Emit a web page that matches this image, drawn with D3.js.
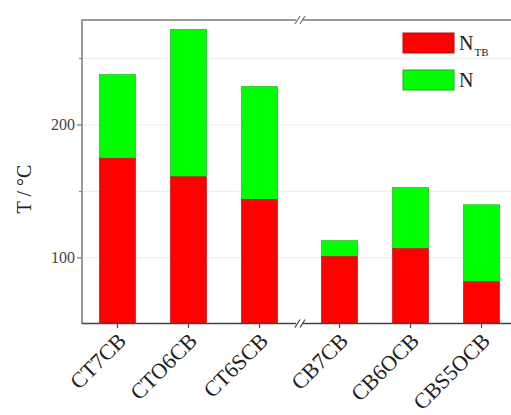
<!DOCTYPE html>
<html><head><meta charset="utf-8">
<script src="https://cdn.jsdelivr.net/npm/d3@7/dist/d3.min.js"></script>
<style>body{margin:0;background:#fff;}svg{display:block;}</style>
</head><body>
<script>
const categories = ["CT7CB","CTO6CB","CT6SCB","CB7CB","CB6OCB","CBS5OCB"];
const ntbValues = [175, 161, 144, 101, 107, 82];
const nValues   = [238, 272, 229, 113, 153, 140];
const yTicksMajor = [100, 200];
const yTicksMinor = [150, 250];
const legendLabels = [["N","TB"],["N",""]];
const colors = {ntb:"#ff0000", n:"#00ff00"};

(function(){
const W = 511, H = 415;
const svg = d3.select("body").append("svg").attr("width", W).attr("height", H);
const pLeft = 82, pTop = 20, pBottom = 323, brk = 300;
const y = d3.scaleLinear().domain([51, 279]).range([pBottom, pTop]);
const xL = d3.scaleBand().domain(categories.slice(0,3)).range([82, 295]).paddingInner(0.49).paddingOuter(0.245);
const xR = d3.scaleBand().domain(categories.slice(3)).range([304, 517]).paddingInner(0.49).paddingOuter(0.245);
const xPos = c => (xL.domain().includes(c) ? xL(c) : xR(c));
const bw = xL.bandwidth();

// gridlines
svg.append("g").selectAll("line").data(yTicksMajor.concat(yTicksMinor)).join("line")
  .attr("x1", pLeft).attr("x2", W).attr("y1", d=>y(d)).attr("y2", d=>y(d))
  .attr("stroke", "#ececec").attr("stroke-width", 1);

// bars
const data = categories.map((c,i)=>({c, ntb: ntbValues[i], n: nValues[i]}));
const g = svg.append("g");
g.selectAll("rect.n").data(data).join("rect").attr("class","n")
  .attr("x", d=>xPos(d.c)).attr("width", bw)
  .attr("y", d=>y(d.n)).attr("height", d=>y(d.ntb)-y(d.n))
  .attr("fill", colors.n).attr("stroke", "#22aa22").attr("stroke-width", 0.6);
g.selectAll("rect.t").data(data).join("rect").attr("class","t")
  .attr("x", d=>xPos(d.c)).attr("width", bw)
  .attr("y", d=>y(d.ntb)).attr("height", d=>pBottom - y(d.ntb))
  .attr("fill", colors.ntb).attr("stroke", "#bb1111").attr("stroke-width", 0.6);

// frame
svg.append("line").attr("x1", pLeft).attr("x2", pLeft).attr("y1", pTop-1).attr("y2", pBottom+1)
  .attr("stroke", "#9a9a9a").attr("stroke-width", 2);
svg.append("line").attr("x1", pLeft-1).attr("x2", W).attr("y1", pTop).attr("y2", pTop)
  .attr("stroke", "#9a9a9a").attr("stroke-width", 2);
svg.append("line").attr("x1", pLeft).attr("x2", W).attr("y1", pBottom+0.5).attr("y2", pBottom+0.5)
  .attr("stroke", "#444").attr("stroke-width", 1.5);

// breaks
[pTop, pBottom+0.5].forEach(yy=>{
  svg.append("rect").attr("x", brk-4).attr("y", yy-2).attr("width", 7).attr("height", 4).attr("fill","#fff");
  [-3, 2].forEach(o=>{
    svg.append("line").attr("x1", brk+o-2).attr("x2", brk+o+3).attr("y1", yy+4).attr("y2", yy-4)
      .attr("stroke", yy===pTop?"#777":"#444").attr("stroke-width", 1.2);
  });
});

// y ticks
svg.append("g").selectAll("line").data(yTicksMajor).join("line")
  .attr("x1", pLeft-5).attr("x2", pLeft).attr("y1", d=>y(d)).attr("y2", d=>y(d)).attr("stroke","#777").attr("stroke-width",1.2);
svg.append("g").selectAll("line").data(yTicksMinor).join("line")
  .attr("x1", pLeft-3).attr("x2", pLeft).attr("y1", d=>y(d)).attr("y2", d=>y(d)).attr("stroke","#888").attr("stroke-width",1);
svg.append("g").selectAll("text").data(yTicksMajor).join("text")
  .attr("x", pLeft-7).attr("y", d=>y(d)+5.5).attr("text-anchor","end")
  .attr("font-family","Liberation Serif").attr("font-size",16).attr("fill","#444").text(d=>d);

// x ticks & labels
svg.append("g").selectAll("line").data(categories).join("line")
  .attr("x1", c=>xPos(c)+bw/2).attr("x2", c=>xPos(c)+bw/2).attr("y1", pBottom+1).attr("y2", pBottom+5)
  .attr("stroke","#444").attr("stroke-width",1.2);
svg.append("g").selectAll("text").data(categories).join("text")
  .attr("transform", c=>`translate(${xPos(c)+bw/2+10},${pBottom+19}) rotate(-45)`)
  .attr("text-anchor","end")
  .attr("font-family","Liberation Serif").attr("font-size",22).attr("fill","#222").text(c=>c);

// y title
svg.append("text").attr("transform", `translate(31,189) rotate(-90)`)
  .attr("text-anchor","middle").attr("font-family","Liberation Serif").attr("font-size",20).attr("fill","#222")
  .text("T / °C");

// legend
const lg = svg.append("g");
[colors.ntb, colors.n].forEach((col,i)=>{
  lg.append("rect").attr("x",403).attr("y",33+i*37).attr("width",51).attr("height",20)
    .attr("fill",col).attr("stroke", i===0?"#aa1111":"#22aa22").attr("stroke-width",1);
  const t = lg.append("text").attr("x",459).attr("y",50+i*37)
    .attr("font-family","Liberation Serif").attr("font-size",20).attr("fill","#222");
  t.append("tspan").text(legendLabels[i][0]);
  if (legendLabels[i][1]) t.append("tspan").attr("dy",6).attr("dx",1).attr("font-size",11).text(legendLabels[i][1]);
});
})();
</script>
</body></html>
